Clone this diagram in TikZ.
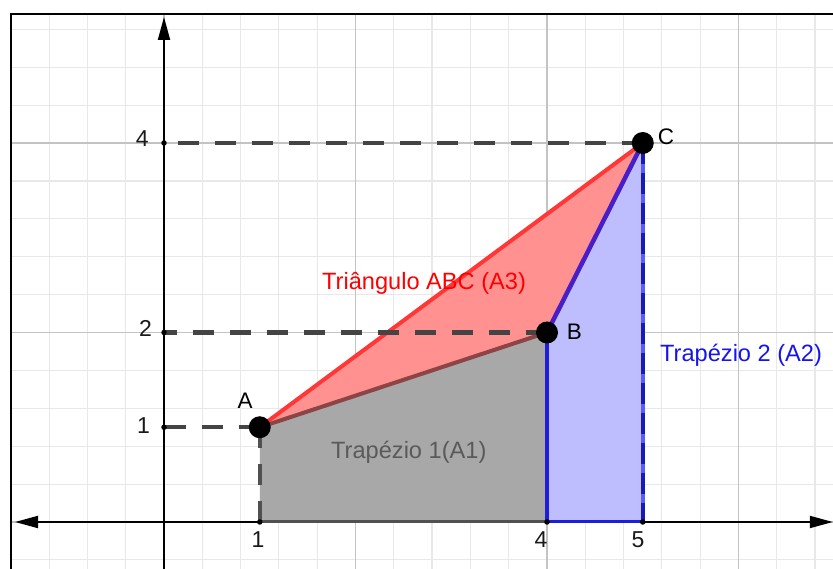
\documentclass[tikz,border=0pt]{standalone}
\usepackage{fontspec}
\setmainfont{Liberation Sans}
\usetikzlibrary{arrows.meta}
\definecolor{gridminor}{RGB}{232,232,232}
\definecolor{gridmajor}{RGB}{195,195,195}
\definecolor{dashgray}{RGB}{68,68,68}
\definecolor{trapgray}{RGB}{168,168,168}
\definecolor{trapgrayedge}{RGB}{80,80,80}
\definecolor{trifill}{RGB}{255,145,145}
\definecolor{trired}{RGB}{255,55,55}
\definecolor{abedge}{RGB}{140,68,68}
\definecolor{bluefill}{RGB}{190,190,255}
\definecolor{blueedge}{RGB}{30,30,215}
\definecolor{bluelight}{RGB}{90,90,255}
\definecolor{bcedge}{RGB}{72,30,200}
\definecolor{labblue}{RGB}{20,20,235}
\definecolor{labgray}{RGB}{90,90,90}
\tikzset{
  minorgrid/.style={draw=gridminor,line width=1.2pt},
  majorgrid/.style={draw=gridmajor,line width=1.5pt},
  axisline/.style={draw=black,line width=1.9pt,-{Triangle[length=23pt,width=12pt]}},
  dashline/.style={draw=dashgray,line width=4.5pt,dash pattern=on 21pt off 16pt},
  pt/.style={circle,fill=black,minimum size=22pt,inner sep=0pt},
  tickdot/.style={circle,fill=black,minimum size=5.5pt,inner sep=0pt},
  ticklab/.style={font=\fontsize{23}{27}\selectfont,inner sep=0pt,text=black!90},
  ptlab/.style={font=\fontsize{22.5}{26}\selectfont,inner sep=0pt,text=black},
  biglab/.style={font=\fontsize{23.6}{28}\selectfont,inner sep=0pt,anchor=base west}
}
\begin{document}
\begin{tikzpicture}[x=95.75pt,y=94.75pt]
\useasboundingbox (-1.7128,-0.4855) rectangle (6.987,5.5092);
% grid
\begin{scope}
\clip (-1.598,-0.6) rectangle (7.1,5.3615);
\draw[minorgrid,step=0.4] (-2,-0.8) grid (7.2,5.6);
\draw[majorgrid,step=2] (-2,-0.8) grid (7.2,5.6);
\end{scope}
% frame
\draw[line width=2.7pt,line cap=rect] (-1.598,-0.6) -- (-1.598,5.3615) -- (7.1,5.3615);
% key coordinates
\coordinate (A) at (1,1);
\coordinate (B) at (4,2);
\coordinate (C) at (5,4);
\coordinate (X1) at (1,0);
\coordinate (X4) at (4,0);
\coordinate (X5) at (5,0);
\coordinate (Y1) at (0,1);
\coordinate (Y2) at (0,2);
\coordinate (Y4) at (0,4);
\coordinate (O) at (0,0);
\coordinate (xl) at (-1.556,0);
\coordinate (xr) at (6.985,0);
\coordinate (yb) at (0,-0.6);
\coordinate (yt) at (0,5.33);
% axes
\draw[axisline] (O) -- (xr);
\draw[axisline] (O) -- (xl);
\draw[axisline] (yb) -- (yt);
% fills
\fill[trapgray] (X1) -- (A) -- (B) -- (X4) -- cycle;
\fill[bluefill] (X4) -- (B) -- (C) -- (X5) -- cycle;
\fill[trifill] (A) -- (B) -- (C) -- cycle;
% edges
\draw[trapgrayedge,line width=3pt] (X1) -- (X4);
\draw[blueedge,line width=3pt] (X4) -- (X5);
\draw[trapgrayedge,line width=4.5pt,dash pattern=on 21pt off 16pt] (A) -- (X1);
\draw[blueedge,line width=4.5pt] (X4) -- (B);
\draw[bluelight,line width=4.5pt] (C) -- (X5);
\draw[blueedge!85!black,line width=4.5pt,dash pattern=on 21pt off 9pt] (C) -- (X5);
\draw[abedge,line width=4pt] (A) -- (B);
\draw[trired,line width=4pt] (A) -- (C);
\draw[bcedge,line width=4.5pt] (B) -- (C);
% dashed guides
\draw[dashline] (C) -- (Y4);
\draw[dashline] (B) -- (Y2);
\draw[dashline] (A) -- (Y1);
% tick dots
\node[tickdot] (dY1) at (Y1) {};
\node[tickdot] (dY2) at (Y2) {};
\node[tickdot] (dY4) at (Y4) {};
\node[tickdot] (dX1) at (X1) {};
\node[tickdot] (dX4) at (X4) {};
\node[tickdot] (dX5) at (X5) {};
% points
\node[pt] (pA) at (A) {};
\node[pt] (pB) at (B) {};
\node[pt] (pC) at (C) {};
% tick labels
\node[ticklab,anchor=base east] (t4) at (-0.157,3.968) {4};
\node[ticklab,anchor=base east] (t2) at (-0.125,1.953) {2};
\node[ticklab,anchor=base east] (t1) at (-0.146,0.929) {1};
\node[ticklab,anchor=base] (x1) at (0.982,-0.274) {1};
\node[ticklab,anchor=base] (x4) at (3.937,-0.274) {4};
\node[ticklab,anchor=base] (x5) at (4.950,-0.274) {5};
% point labels
\node[ptlab,anchor=base] (lA) at (0.846,1.193) {A};
\node[ptlab,anchor=base west] (lB) at (4.205,1.921) {B};
\node[ptlab,anchor=base west] (lC) at (5.155,3.979) {C};
% region labels
\node[biglab,text=red] (l3) at (1.650,2.456) {Triângulo ABC (A3)};
\node[biglab,text=labblue] (l2) at (5.180,1.692) {Trapézio 2 (A2)};
\node[biglab,text=labgray] (l1) at (1.744,0.675) {Trapézio 1(A1)};
\end{tikzpicture}
\end{document}
